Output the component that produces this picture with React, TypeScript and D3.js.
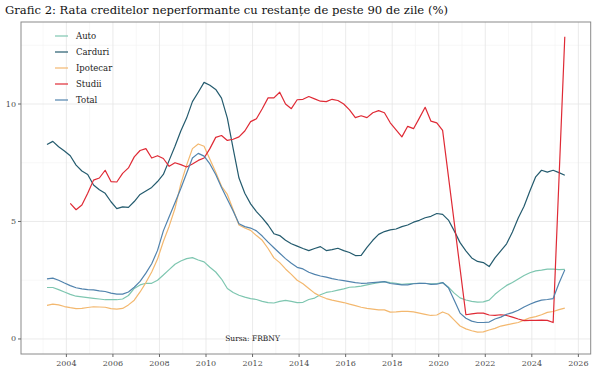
import React from 'react';
import * as d3 from 'd3';

// date trimestriale, 2003T1 .. 2025T2, fiecare punct pus la a doua luna din trimestru + 1
const firstYear = 2003;
const nQuarters = 90;
const quarterTimes: number[] = d3.range(nQuarters).map((i) => {
  const year = firstYear + Math.floor(i / 4);
  const q = (i % 4) + 1;
  return year + (3 * q - 1) / 12;
});

const auto = [
  2.19, 2.19, 2.1, 2.0,
  1.9, 1.82, 1.79, 1.76,
  1.73, 1.7, 1.67, 1.67,
  1.67, 1.7, 1.85, 2.15,
  2.3, 2.37, 2.37, 2.5,
  2.72, 2.95, 3.18, 3.32,
  3.42, 3.46, 3.36, 3.28,
  3.05, 2.85, 2.55, 2.15,
  1.98, 1.86, 1.78, 1.72,
  1.68, 1.6, 1.55, 1.53,
  1.6, 1.64, 1.6, 1.55,
  1.56, 1.68, 1.74, 1.88,
  1.98, 2.02, 2.08, 2.13,
  2.2, 2.22, 2.25, 2.3,
  2.35, 2.4, 2.44, 2.4,
  2.37, 2.32, 2.35, 2.36,
  2.37, 2.36, 2.35, 2.36,
  2.4, 2.2, 1.95, 1.75,
  1.66, 1.6, 1.57, 1.58,
  1.65, 1.9, 2.1, 2.28,
  2.4, 2.55, 2.7, 2.82,
  2.9, 2.93, 2.97, 2.97,
  2.95, 2.96,
];

const carduri = [
  8.28, 8.41, 8.18, 8.0,
  7.8, 7.4, 7.15, 7.0,
  6.55, 6.35, 6.2, 5.84,
  5.55, 5.62, 5.6, 5.85,
  6.15, 6.3, 6.45, 6.7,
  7.0, 7.6, 8.2, 8.85,
  9.4, 10.1, 10.5, 10.92,
  10.8, 10.62, 10.25, 9.4,
  8.1, 6.85, 6.2, 5.75,
  5.42, 5.15, 4.85, 4.48,
  4.4, 4.2, 4.05, 3.95,
  3.85, 3.76, 3.85, 3.93,
  3.76, 3.8, 3.86, 3.76,
  3.68, 3.55, 3.56, 3.9,
  4.2, 4.45, 4.57, 4.64,
  4.68, 4.78, 4.85, 4.97,
  5.05, 5.16, 5.22, 5.34,
  5.3, 5.06, 4.6, 4.1,
  3.75, 3.45, 3.3, 3.25,
  3.08, 3.45, 3.75, 4.05,
  4.55, 5.15, 5.65, 6.3,
  6.9, 7.18, 7.1, 7.18,
  7.08, 6.97,
];

const ipotecar = [
  1.43, 1.48, 1.45, 1.38,
  1.33, 1.29, 1.3, 1.34,
  1.37, 1.36, 1.35, 1.29,
  1.27, 1.3, 1.45, 1.65,
  2.0, 2.4, 2.85, 3.4,
  4.15, 4.8, 5.55, 6.6,
  7.4, 8.1, 8.3, 8.2,
  7.65, 7.1, 6.5, 6.15,
  5.5, 4.85, 4.72, 4.62,
  4.4, 4.2, 3.85, 3.45,
  3.25, 2.98, 2.75, 2.5,
  2.35, 2.15, 1.95, 1.82,
  1.72, 1.65, 1.6, 1.55,
  1.48, 1.42, 1.35, 1.3,
  1.27, 1.24, 1.24, 1.14,
  1.15, 1.17, 1.17, 1.15,
  1.1, 1.05, 1.0, 1.02,
  1.15, 1.05, 0.8, 0.55,
  0.43, 0.35, 0.29, 0.3,
  0.38, 0.45, 0.55, 0.6,
  0.65, 0.7, 0.8, 0.9,
  0.95, 1.03, 1.13, 1.17,
  1.25, 1.31,
];

// lipsa pana in 2004 si cateva trimestre fara valoare
const studii: (number | null)[] = [
  null, null, null, null,
  5.77, 5.5, 5.7, 6.2,
  6.76, 6.85, 7.18, 6.7,
  6.68, 7.05, 7.28, 7.75,
  8.02, 8.1, 7.7, 7.8,
  7.68, 7.35, 7.5, 7.42,
  7.32, 7.45, 7.6, 7.7,
  8.1, 8.58, 8.66, 8.45,
  8.5, 8.6, 8.85, 9.25,
  9.37, 9.8, 10.26, 10.26,
  10.5, 10.0, 9.8, 10.18,
  10.2, 10.32, 10.22, 10.12,
  10.1, 10.2, 10.15, 10.0,
  9.75, 9.42, 9.5, 9.42,
  9.63, 9.72, 9.63, 9.2,
  8.9, 8.6, 9.05, 8.95,
  9.4, 9.86, 9.27, 9.2,
  8.88, null, null, null,
  1.03, 1.07, 1.1, 1.1,
  1.02, 1.0, 1.03, 1.0,
  0.93, 0.85, 0.78, 0.79,
  0.79, 0.8, 0.79, 0.7,
  null, 12.86,
];

const total = [
  2.56, 2.59, 2.5, 2.38,
  2.27, 2.18, 2.13, 2.1,
  2.09, 2.05, 2.02, 1.95,
  1.91, 1.91, 2.0, 2.2,
  2.45, 2.8, 3.2, 3.77,
  4.6, 5.2, 5.8, 6.4,
  7.05, 7.7, 7.9, 7.78,
  7.45, 7.0, 6.45, 5.95,
  5.45, 4.9, 4.78, 4.72,
  4.6, 4.38, 4.12, 3.88,
  3.65, 3.42, 3.22, 3.05,
  2.98, 2.84, 2.75, 2.68,
  2.63, 2.57, 2.52, 2.48,
  2.44, 2.4, 2.37, 2.38,
  2.4, 2.42, 2.44, 2.36,
  2.33, 2.3, 2.3, 2.35,
  2.37, 2.37, 2.32, 2.33,
  2.4, 2.18, 1.65, 1.1,
  0.88, 0.76, 0.7, 0.7,
  0.72, 0.85, 0.93, 1.05,
  1.12, 1.22, 1.36, 1.48,
  1.58, 1.65, 1.68, 1.72,
  2.37, 2.94,
];

const seriesNames = ['Auto', 'Carduri', 'Ipotecar', 'Studii', 'Total'];
const seriesValues = [auto, carduri, ipotecar, studii, total];
const seriesColors = ['#7ec6b0', '#245b6e', '#f3b86f', '#df2a35', '#5183ad'];

const xMajor = d3.range(2004, 2027, 2);
const xMinor = d3.range(2003, 2026, 2);
const yMajor = [0, 5, 10];
const yMinor = [2.5, 7.5, 12.5];

const titleText = 'Grafic 2: Rata creditelor neperformante cu restanțe de peste 90 de zile (%)';
const sourceText = 'Sursa: FRBNY';
const sourceAt = 2012;

const W = 600;
const H = 384;
const left = 21;
const right = 590.7;
const top = 22;
const bottom = 354;
const font = "'DejaVu Serif', Georgia, serif";

function App() {
  const x = d3.scaleLinear().domain([2002.05, 2026.53]).range([left, right]);
  const y = d3.scaleLinear().domain([-0.64, 13.49]).range([bottom, top]);

  const line = d3
    .line<[number, number]>()
    .x((d) => x(d[0]))
    .y((d) => y(d[1]));

  return (
    <svg
      width={W}
      height={H}
      style={{ position: 'absolute', left: 0, top: 0, background: '#fff' }}
      fontFamily={font}
    >
      <text x={5} y={14} fontSize={11.6} fill="#111">
        {titleText}
      </text>

      {/* grila */}
      {xMinor.map((v) => (
        <line key={'xm' + v} x1={x(v)} x2={x(v)} y1={top} y2={bottom} stroke="#f2f2f2" strokeWidth={0.6} />
      ))}
      {yMinor.map((v) => (
        <line key={'ym' + v} x1={left} x2={right} y1={y(v)} y2={y(v)} stroke="#f2f2f2" strokeWidth={0.6} />
      ))}
      {xMajor.map((v) => (
        <line key={'xM' + v} x1={x(v)} x2={x(v)} y1={top} y2={bottom} stroke="#e6e6e6" strokeWidth={0.8} />
      ))}
      {yMajor.map((v) => (
        <line key={'yM' + v} x1={left} x2={right} y1={y(v)} y2={y(v)} stroke="#e6e6e6" strokeWidth={0.8} />
      ))}

      {seriesValues.map((vals, i) => {
        const pts = quarterTimes
          .map((t, j) => [t, vals[j]] as [number, number | null])
          .filter((p): p is [number, number] => p[1] != null);
        return (
          <path
            key={seriesNames[i]}
            d={line(pts) || ''}
            fill="none"
            stroke={seriesColors[i]}
            strokeWidth={1.2}
            strokeLinejoin="round"
          />
        );
      })}

      <text
        x={x(sourceAt)}
        y={y(0)}
        fontSize={7.5}
        textAnchor="middle"
        dominantBaseline="central"
        fill="#222"
      >
        {sourceText}
      </text>

      <rect x={left} y={top} width={right - left} height={bottom - top} fill="none" stroke="#8a8a8a" strokeWidth={1} />

      {/* axe */}
      {xMajor.map((v) => (
        <g key={'xt' + v}>
          <line x1={x(v)} x2={x(v)} y1={bottom} y2={bottom + 3} stroke="#666" />
          <text x={x(v)} y={bottom + 12} fontSize={8} textAnchor="middle" fill="#4d4d4d">
            {v}
          </text>
        </g>
      ))}
      {yMajor.map((v) => (
        <g key={'yt' + v}>
          <line x1={left - 3} x2={left} y1={y(v)} y2={y(v)} stroke="#666" />
          <text x={left - 5} y={y(v)} fontSize={8} textAnchor="end" dominantBaseline="central" fill="#4d4d4d">
            {v}
          </text>
        </g>
      ))}

      {/* legenda */}
      {seriesNames.map((name, i) => (
        <g key={'lg' + name} transform={`translate(55, ${36 + i * 16})`}>
          <line x1={0} x2={13} y1={0} y2={0} stroke={seriesColors[i]} strokeWidth={1.2} />
          <text x={21} y={0} fontSize={8.5} dominantBaseline="central" fill="#222">
            {name}
          </text>
        </g>
      ))}
    </svg>
  );
}

export default App;
